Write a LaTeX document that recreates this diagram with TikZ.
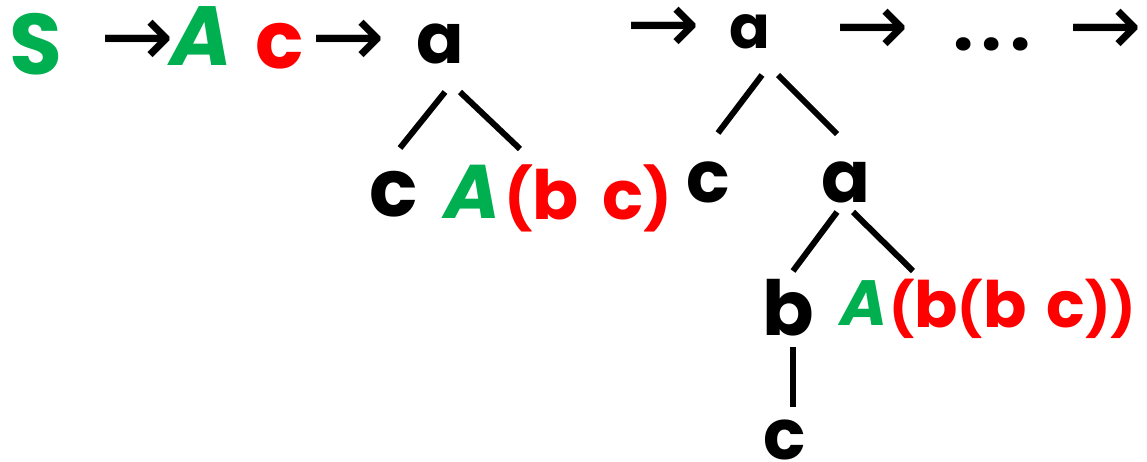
\documentclass[tikz,border=0pt]{standalone}
\usepackage{fontspec}
\setmainfont{Poppins}
\newfontfamily\arrowfont{DejaVu Sans}
\usetikzlibrary{calc}
\definecolor{ggreen}{HTML}{00B050}
\definecolor{rred}{HTML}{FF0000}
\newcommand\myLP[1]{{\fontsize{#1}{#1}\selectfont(}}
\newcommand\myRP[1]{{\fontsize{#1}{#1}\selectfont)}}
\tikzset{
  txt/.style={inner sep=0pt, outer sep=0pt, font=\bfseries\fontsize{#1}{#1}\selectfont},
  grn/.style={inner sep=0pt, outer sep=0pt, text=ggreen, font=\bfseries\itshape\fontsize{#1}{#1}\selectfont},
  grnup/.style={txt=#1, text=ggreen},
  red/.style={txt=#1, text=rred},
  arr/.style={inner sep=0pt, font=\arrowfont\fontsize{44}{44}\selectfont},
  edge/.style={line width=3pt}
}
\begin{document}
\begin{tikzpicture}[x=0.5pt,y=-0.5pt]
\useasboundingbox (0,0) rectangle (1147,461);
% top row
\node[grnup=43] (S) at (36,44) {S};
\node[arr] (r1) at (137,43) {→};
\node[grn=42] (A0) at (201,36) {A};
\node[red=40] (c0) at (280,46) {c};
\node[arr] (r2) at (348,43) {→};
\node[txt=35] (a1) at (440,44) {a};
\node[arr] (r3) at (663,30) {→};
\node[txt=30] (a2) at (750,32) {a};
\node[arr] (r4) at (872,32) {→};
\node[txt=36] (dots) at (992,44) {.\hspace{4pt}.\hspace{4pt}.};
\node[arr] (r5) at (1105,32) {→};
% tree 1
\node[txt=40] (c1) at (394,194) {c};
\node[grn=38] (A1) at (473,192) {A};
\node[red=34, anchor=west] (bc1) at (504,198) {\myLP{30}b\hspace{12pt}c\myRP{30}};
\draw[edge] ($(a1)+(5,48)$) -- ($(c1)+(6,-46)$);
\draw[edge] ($(a1)+(20,48)$) -- ($(A1)+(47,-43)$);
% tree 2
\node[txt=36] (c2) at (708,182) {c};
\node[txt=36] (a3) at (846,182) {a};
\draw[edge] ($(a2)+(12,43)$) -- ($(c2)+(10,-49)$);
\draw[edge] ($(a2)+(28,43)$) -- ($(a3)+(-9,-48)$);
\node[txt=38] (b1) at (788,308) {b};
\node[grn=32] (A2) at (864,303) {A};
\node[red=32, anchor=west] (bc2) at (889,309) {\myLP{26.5}b\myLP{26.5}b\hspace{10pt}c\myRP{26.5}\myRP{26.5}};
\draw[edge] ($(a3)+(-9,30)$) -- ($(b1)+(5,-37)$);
\draw[edge] ($(a3)+(7,30)$) -- ($(A2)+(49,-32)$);
\node[txt=35] (c3) at (785,440) {c};
\draw[edge] ($(b1)+(5,39)$) -- ($(c3)+(8,-33)$);
\end{tikzpicture}
\end{document}
